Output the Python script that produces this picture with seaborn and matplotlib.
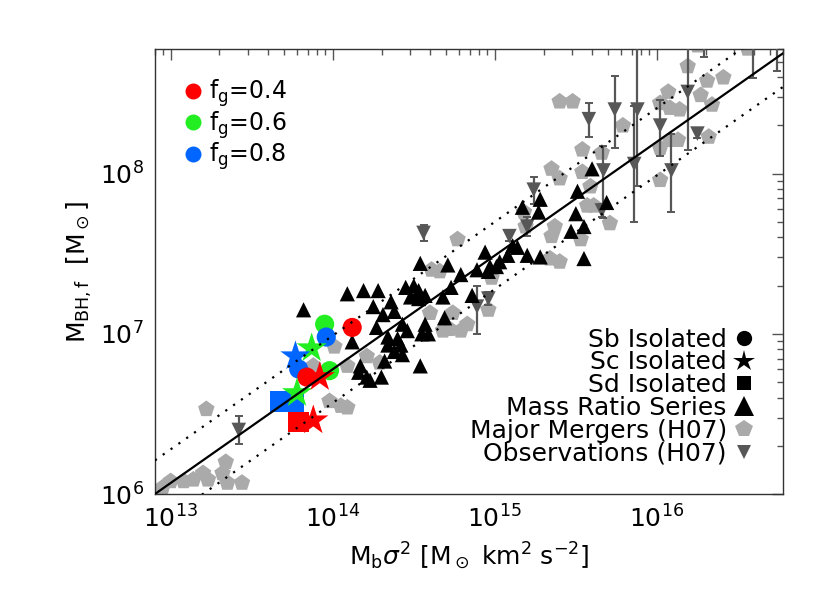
import numpy as np
import pandas as pd
import matplotlib
matplotlib.use("Agg")
import matplotlib.pyplot as plt
import seaborn as sns
from matplotlib.lines import Line2D

sns.set_theme(style="white")
plt.rcParams['font.family'] = ['DejaVu Sans']
plt.rcParams['mathtext.fontset'] = 'dejavusans'
plt.rcParams['text.color'] = 'black'
plt.rcParams['axes.labelcolor'] = 'black'
plt.rcParams['xtick.labelcolor'] = 'black'
plt.rcParams['ytick.labelcolor'] = 'black'

# ---- data (log10 values) ----
# mass ratio series (black triangles)
mr_logx = [13.82, 14.09, 14.19, 14.28, 14.45, 14.50, 14.53, 14.57, 14.48, 14.53,
           14.54, 14.71, 14.79, 14.73, 14.68, 14.25, 14.36, 14.38, 14.31, 14.69,
           14.27, 14.12, 14.46, 14.34, 14.40, 14.42, 14.34, 14.38, 14.43, 14.55,
           14.59, 14.17, 14.21, 14.16, 14.32, 14.30, 14.23, 14.54, 14.86, 14.43,
           14.57, 14.94, 14.89, 14.97, 15.03, 15.08, 15.14, 15.11, 15.20, 15.28,
           14.96, 15.17, 15.27, 15.28, 15.50, 15.51, 15.60, 15.55, 15.47, 15.55,
           15.69, 15.01]
mr_logy = [7.15, 7.25, 7.27, 7.27, 7.29, 7.30, 7.27, 7.24, 7.23, 7.22,
           7.44, 7.43, 7.37, 7.29, 7.23, 7.17, 7.20, 7.14, 7.12, 7.10,
           7.04, 6.95, 7.02, 6.98, 6.97, 6.93, 6.93, 6.89, 6.87, 7.00,
           7.00, 6.80, 6.73, 6.76, 6.83, 6.73, 6.71, 6.80, 7.24, 7.06,
           7.06, 7.51, 7.40, 7.42, 7.45, 7.49, 7.54, 7.55, 7.49, 7.48,
           7.39, 7.79, 7.76, 7.84, 7.75, 7.89, 8.03, 7.67, 7.64, 7.47,
           7.82, 7.42]

# major mergers H07 (grey pentagons)
mm_logx = [13.00, 13.08, 13.14, 13.20, 13.23, 13.34, 13.32, 13.35, 13.44, 12.95, 13.22,
           14.01, 14.09, 14.21, 13.98, 14.05, 14.09, 13.88, 14.29,
           14.60, 14.68, 14.61, 14.66, 14.77, 14.74, 14.79, 14.72,
           15.35, 15.40, 15.54, 15.57, 15.37, 15.35, 15.53, 15.34, 15.40,
           14.98, 14.83, 14.96, 15.18, 15.19,
           15.40, 15.48, 16.19, 16.31, 16.41, 16.27, 16.07, 16.02, 16.08, 16.14, 16.34, 15.79, 16.32,
           15.66, 16.08, 16.13, 16.02, 16.02, 15.54, 15.59, 15.61, 15.71,
           16.25, 16.56]
mm_logy = [6.08, 6.08, 6.09, 6.13, 6.09, 6.20, 6.13, 6.07, 6.07, 6.04, 6.53,
           6.92, 6.80, 6.86, 6.58, 6.55, 6.54, 6.80, 6.82,
           7.13, 7.02, 7.40, 7.39, 7.59, 7.13, 7.02, 7.03,
           8.03, 7.97, 8.15, 7.80, 7.67, 7.61, 7.59, 7.47, 7.45,
           7.35, 7.06, 7.15, 7.76, 7.67,
           8.45, 8.45, 8.67, 8.58, 8.60, 8.49, 8.51, 8.44, 8.41, 8.40, 8.43, 8.30, 8.23,
           8.13, 8.21, 8.21, 8.16, 7.96, 8.01, 7.92, 7.80, 7.69,
           8.80, 8.78]

# observations H07 (dark grey down triangles with error bars)
ob_logx = [13.42, 14.56, 14.89, 14.96, 15.09, 15.20, 15.24, 15.58, 15.74, 15.88,
           15.86, 15.67, 15.66, 16.02, 16.19, 16.25, 16.09, 16.29, 16.59, 16.74]
ob_logy = [6.40, 7.63, 7.17, 7.22, 7.61, 7.67, 7.90, 8.34, 8.40, 8.40,
           8.06, 8.02, 7.77, 8.30, 8.51, 8.25, 8.02, 8.85, 8.85, 8.84]
ob_err_lo = [0.09, 0.05, 0.17, 0.04, 0.03, 0.06, 0.09, 0.11, 0.24, 0.48,
             0.36, 0.30, 0.04, 0.19, 0.36, 0.03, 0.26, 0.12, 0.25, 0.20]
ob_err_hi = [0.09, 0.05, 0.13, 0.04, 0.03, 0.06, 0.08, 0.10, 0.21, 0.48,
             0.36, 0.15, 0.04, 0.16, 0.36, 0.03, 0.23, 0.12, 0.25, 0.20]

# isolated disks, coloured by gas fraction (drawing order matters)
sb_logx = [13.95, 13.98, 13.96, 13.79, 14.12, 13.84]
sb_logy = [7.06, 6.77, 6.98, 6.78, 7.04, 6.73]
sb_fg = [0.6, 0.6, 0.8, 0.8, 0.4, 0.4]

sc_logx = [13.87, 13.78, 13.77, 13.92, 13.88]
sc_logy = [6.91, 6.63, 6.86, 6.73, 6.46]
sc_fg = [0.6, 0.6, 0.8, 0.4, 0.4]

sd_logx = [13.68, 13.76, 13.79]
sd_logy = [6.58, 6.58, 6.45]
sd_fg = [0.8, 0.8, 0.4]

# H07 relation, log M_BH = slope*log(M sigma^2) + zp, with scatter band
rel_slope = 0.71
rel_zp = -3.161
rel_scatter = 0.21

fg_colors = {0.4: "#ff0000", 0.6: "#22ee22", 0.8: "#0066ff"}
grey_mm = "#aaaaaa"
grey_obs = "#575757"

# ---- figure ----
fig = plt.figure(figsize=(8.3, 5.93), dpi=100)
ax = fig.add_axes([0.1867, 0.1669, 0.7567, 0.7505])
ax.set_xscale("log")
ax.set_yscale("log")

mm = pd.DataFrame({"x": 10 ** np.array(mm_logx), "y": 10 ** np.array(mm_logy)})
sns.scatterplot(data=mm, x="x", y="y", marker="p", s=155, color=grey_mm,
                edgecolor="none", linewidth=0, ax=ax, zorder=2)

obx = 10 ** np.array(ob_logx)
oby = 10 ** np.array(ob_logy)
yerr = [oby - 10 ** (np.array(ob_logy) - np.array(ob_err_lo)),
        10 ** (np.array(ob_logy) + np.array(ob_err_hi)) - oby]
ax.errorbar(obx, oby, yerr=yerr, fmt="none", ecolor=grey_obs, elinewidth=1.6,
            capsize=3, capthick=1.4, zorder=3)
sns.scatterplot(x=obx, y=oby, marker="v", s=110, color=grey_obs,
                edgecolor="none", linewidth=0, ax=ax, zorder=3)

mr = pd.DataFrame({"x": 10 ** np.array(mr_logx), "y": 10 ** np.array(mr_logy)})
sns.scatterplot(data=mr, x="x", y="y", marker="^", s=120, color="black",
                edgecolor="none", linewidth=0, ax=ax, zorder=4)

for lx, lyv, fg, mk, size in [(sd_logx, sd_logy, sd_fg, "s", 225),
                              (sb_logx, sb_logy, sb_fg, "o", 190),
                              (sc_logx, sc_logy, sc_fg, "*", 520)]:
    df = pd.DataFrame({"x": 10 ** np.array(lx), "y": 10 ** np.array(lyv), "fg": fg})
    sns.scatterplot(data=df, x="x", y="y", hue="fg", palette=fg_colors, marker=mk,
                    s=size, edgecolor="none", linewidth=0, legend=False, ax=ax, zorder=5)

xs = np.array([8e12, 6e16])
rel = rel_slope * np.log10(xs) + rel_zp
ax.plot(xs, 10 ** rel, color="black", lw=1.6, zorder=6)
ax.plot(xs, 10 ** (rel + rel_scatter), color="black", lw=1.6, ls=(0, (1, 3.3)), zorder=6)
ax.plot(xs, 10 ** (rel - rel_scatter), color="black", lw=1.6, ls=(0, (1, 3.3)), zorder=6)

ax.set_xlim(8e12, 6e16)
ax.set_ylim(1e6, 6e8)

ax.set_xlabel(r"M$_{\rm b}\sigma^2$ [M$_\odot$ km$^2$ s$^{-2}$]", fontsize=18, labelpad=6)
ax.set_ylabel(r"M$_{\rm BH,f}$  [M$_\odot$]", fontsize=18, labelpad=4)

for sp in ax.spines.values():
    sp.set_color("#333333")
    sp.set_linewidth(1.0)
ax.tick_params(which="both", direction="in", top=True, right=True, color="#555555",
               labelsize=18)
ax.tick_params(which="major", length=8, width=1, pad=8)
ax.tick_params(which="minor", length=4, width=1)

# legends
fg_handles = [Line2D([], [], marker="o", ls="none", color=c, markersize=11.5,
                     markeredgewidth=0, label=r"f$_{\rm g}$=%.1f" % fg)
              for fg, c in fg_colors.items()]
leg1 = ax.legend(handles=fg_handles, loc="upper left", frameon=False, fontsize=17,
                 handlelength=0.85, handletextpad=0.25, labelspacing=0.0,
                 borderpad=0, borderaxespad=1.2)
ax.add_artist(leg1)

type_handles = [
    Line2D([], [], marker="o", ls="none", color="black", markersize=11, markeredgewidth=0, label="Sb Isolated"),
    Line2D([], [], marker="*", ls="none", color="black", markersize=16, markeredgewidth=0, label="Sc Isolated"),
    Line2D([], [], marker="s", ls="none", color="black", markersize=9.5, markeredgewidth=0, label="Sd Isolated"),
    Line2D([], [], marker="^", ls="none", color="black", markersize=14, markeredgewidth=0, label="Mass Ratio Series"),
    Line2D([], [], marker="p", ls="none", color=grey_mm, markersize=13, markeredgewidth=0, label="Major Mergers (H07)"),
    Line2D([], [], marker="v", ls="none", color=grey_obs, markersize=9.5, markeredgewidth=0, label="Observations (H07)"),
]
ax.legend(handles=type_handles, loc="lower right", frameon=False, fontsize=18,
          markerfirst=False, handlelength=0.8, handletextpad=0.3, labelspacing=-0.05,
          borderpad=0, borderaxespad=1.15)

fig.savefig("out.png", dpi=100)
